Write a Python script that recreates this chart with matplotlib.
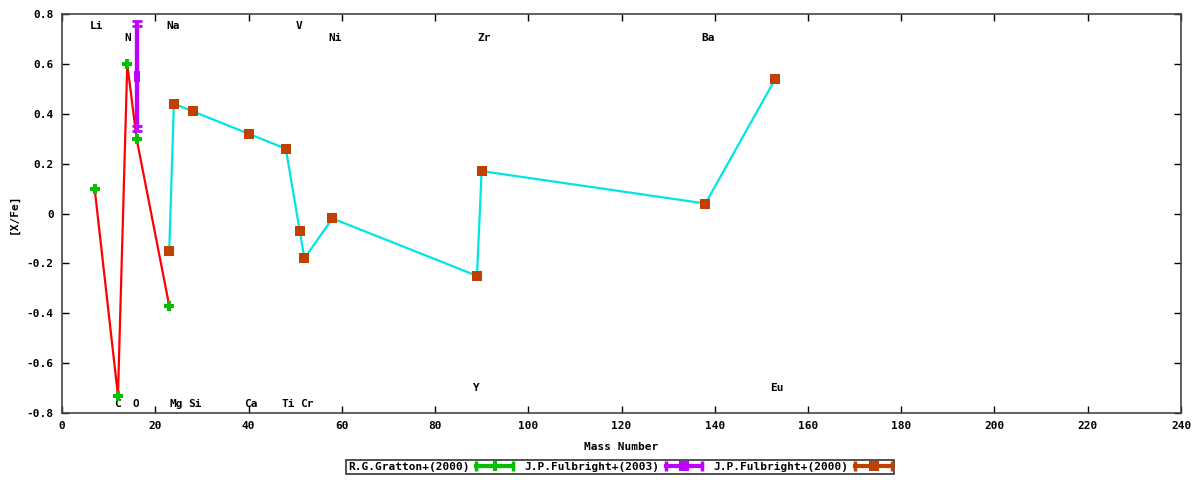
import matplotlib
matplotlib.use("Agg")
import matplotlib.pyplot as plt
from matplotlib.lines import Line2D
from matplotlib.legend_handler import HandlerBase

# Gratton+(2000): Li, C, N, O, Mg
gr_mass = [7, 12, 14, 16, 23]
gr_val = [0.10, -0.73, 0.60, 0.30, -0.37]

# Fulbright+(2003): O
fu03_mass = [16, 16]
fu03_val = [0.56, 0.54]
fu03_err = [0.21, 0.21]

# Fulbright+(2000)
fu00_mass = [23, 24, 28, 40, 48, 51, 52, 58, 89, 90, 138, 153]
fu00_val = [-0.15, 0.44, 0.41, 0.32, 0.26, -0.07, -0.18, -0.02, -0.25, 0.17, 0.04, 0.54]

# element labels
el_names = ["Li", "N", "Na", "V", "Ni", "Zr", "Ba",
            "C", "O", "Mg", "Si", "Ca", "Ti", "Cr", "Y", "Eu"]
el_mass = [7.5, 14, 23.8, 50.8, 58.6, 90.5, 138.6,
           12, 15.9, 24.5, 28.5, 40.5, 48.5, 52.5, 88.8, 153.4]
el_y = [0.752, 0.704, 0.752, 0.752, 0.704, 0.704, 0.704,
        -0.762, -0.762, -0.762, -0.762, -0.762, -0.762, -0.762, -0.698, -0.698]

xticks = list(range(0, 241, 20))
yticks = [-0.8, -0.6, -0.4, -0.2, 0, 0.2, 0.4, 0.6, 0.8]
ytick_labels = ["-0.8", "-0.6", "-0.4", "-0.2", "0", "0.2", "0.4", "0.6", "0.8"]

GREEN = "#00c000"
MAGENTA = "#c000ff"
BROWN = "#c04000"
CYAN = "#00e5e5"
RED = "#ff0000"

FONT = dict(family="DejaVu Sans Mono", fontweight="bold", fontsize=8)

fig = plt.figure(figsize=(12, 4.8), dpi=100)
ax = fig.add_axes([62 / 1200, 1 - 413 / 480, (1181 - 62) / 1200, (413 - 14) / 480])

ax.plot(fu00_mass, fu00_val, color=CYAN, lw=1.6, zorder=2)
ax.plot(gr_mass, gr_val, color=RED, lw=1.6, zorder=2)
ax.plot(gr_mass, gr_val, linestyle="none", marker="P", color=GREEN,
        markersize=7.5, markeredgewidth=0, zorder=4)
ax.errorbar(fu03_mass, fu03_val, yerr=fu03_err, fmt="none",
            ecolor=MAGENTA, elinewidth=3, capsize=3.5, capthick=2, zorder=3)
ax.plot(fu03_mass, fu03_val, linestyle="none", marker="s", color=MAGENTA,
        markersize=5, markeredgewidth=0, zorder=3)
ax.plot(fu00_mass, fu00_val, linestyle="none", marker="s", color=BROWN,
        markersize=7.5, markeredgewidth=0, zorder=4)

for n, m, y in zip(el_names, el_mass, el_y):
    ax.text(m, y, n, ha="center", va="center", **FONT)

ax.set_xlim(0, 240)
ax.set_ylim(-0.8, 0.8)
ax.set_xticks(xticks)
ax.set_xticklabels([str(t) for t in xticks], **FONT)
ax.set_yticks(yticks)
ax.set_yticklabels(ytick_labels, **FONT)
ax.tick_params(direction="in", length=5, width=1, top=True, right=True, pad=6)
for s in ax.spines.values():
    s.set_linewidth(1.2)
    s.set_color("#444444")
ax.set_xlabel("Mass Number", labelpad=8, **FONT)
ax.set_ylabel("[X/Fe]", labelpad=6, **FONT)


class BarHandler(HandlerBase):
    def __init__(self, color, marker):
        super().__init__()
        self.color = color
        self.marker = marker

    def create_artists(self, legend, orig_handle, xdescent, ydescent,
                       width, height, fontsize, trans):
        y = height / 2 - ydescent
        x0, x1 = -xdescent, width - xdescent
        line = Line2D([x0, x1], [y, y], color=self.color, lw=3, transform=trans)
        caps = Line2D([x0, x1], [y, y], linestyle="none", marker="|",
                      markersize=7, markeredgewidth=2.5, color=self.color,
                      transform=trans)
        mk = Line2D([(x0 + x1) / 2], [y], linestyle="none", marker=self.marker,
                    markersize=7, markeredgewidth=0, color=self.color,
                    transform=trans)
        return [line, caps, mk]


h_gr = Line2D([], [])
h_03 = Line2D([], [])
h_00 = Line2D([], [])
leg = fig.legend([h_gr, h_03, h_00],
                 ["R.G.Gratton+(2000)", "J.P.Fulbright+(2003)", "J.P.Fulbright+(2000)"],
                 handler_map={h_gr: BarHandler(GREEN, "P"),
                              h_03: BarHandler(MAGENTA, "s"),
                              h_00: BarHandler(BROWN, "s")},
                 loc="center", bbox_to_anchor=(620 / 1200, 1 - 467 / 480),
                 ncol=3, markerfirst=False, frameon=True, fancybox=False,
                 borderpad=0.15, handlelength=3.3, handletextpad=0.6, columnspacing=1.0,
                 borderaxespad=0,
                 prop=dict(family="DejaVu Sans Mono", weight="bold", size=8))
leg.get_frame().set_edgecolor("black")
leg.get_frame().set_linewidth(1.2)

fig.savefig("out.png", dpi=100)
